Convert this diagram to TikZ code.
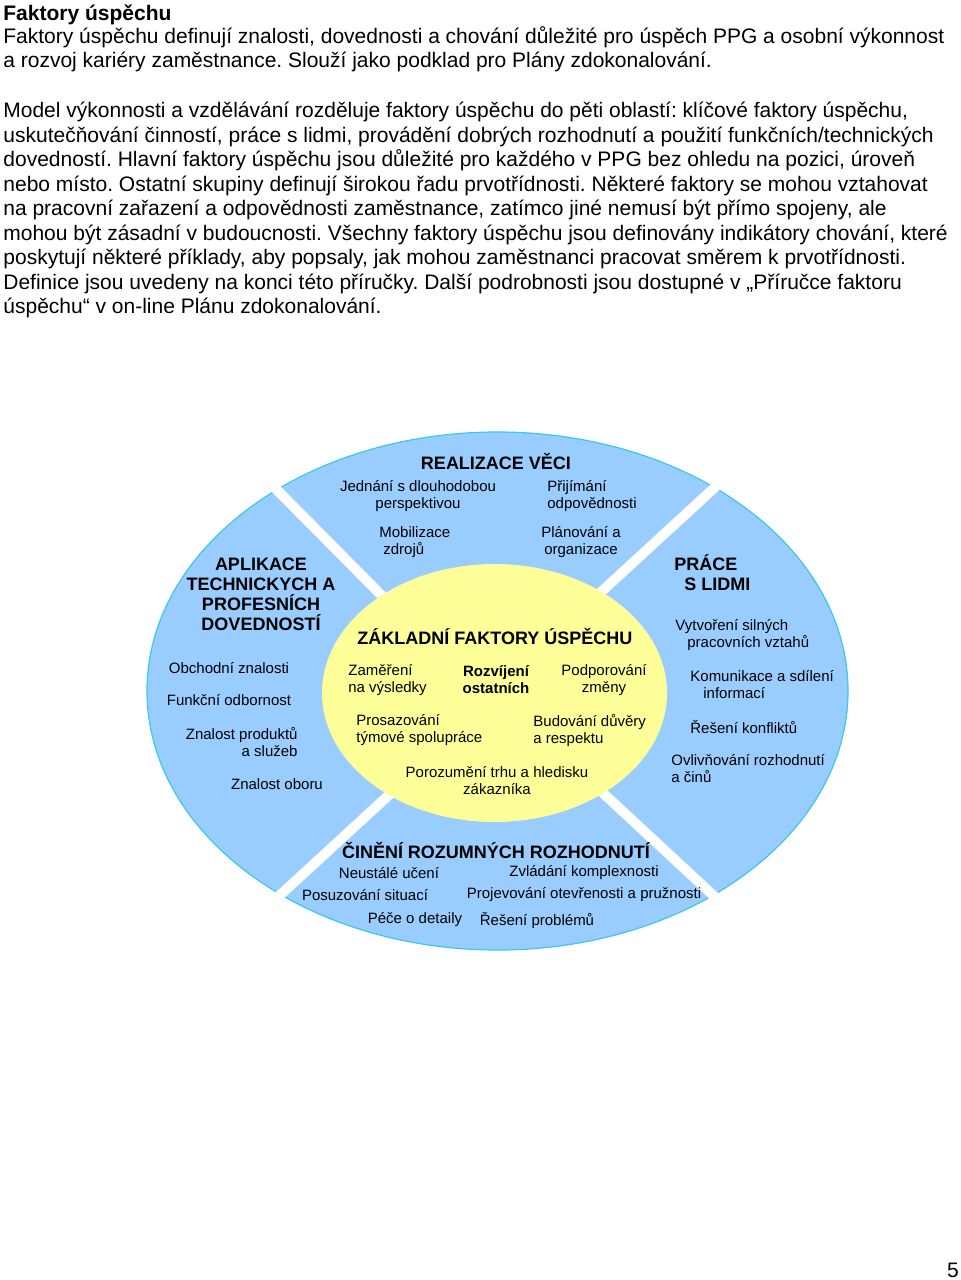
\documentclass[tikz,border=0pt]{standalone}
\usepackage{fontspec}
\setmainfont{Liberation Sans}
\frenchspacing
\usetikzlibrary{calc}
\definecolor{ringblue}{RGB}{153,204,255}
\definecolor{ringedge}{RGB}{60,200,230}
\definecolor{coreyellow}{RGB}{255,255,153}
\tikzset{
    headtxt/.style={font=\fontsize{9}{10}\selectfont\bfseries, align=center, inner sep=0pt},
    itemtxt/.style={font=\fontsize{7.5}{8.5}\selectfont, align=center, inner sep=0pt},
    bodytxt/.style={font=\fontsize{10.5}{12.25}\selectfont, align=left, inner sep=0pt, anchor=north west},
    gapline/.style={line width=5pt, white, shorten <=-6pt, shorten >=-8pt},
}

\begin{document}
\begin{tikzpicture}[
    x=0.5pt, y=-0.5pt,
    lefttxt/.style={itemtxt, align=left, anchor=west},
    righttxt/.style={itemtxt, align=right, anchor=east},
]
\useasboundingbox (0,0) rectangle (960,1280);

% Intro text
\node[bodytxt, font=\fontsize{10.5}{12.25}\selectfont\bfseries] (title) at (3,4) {Faktory úspěchu};
\node[bodytxt] (para1) at (3,26) {Faktory úspěchu definují znalosti, dovednosti a chování důležité pro úspěch PPG a osobní výkonnost\\
a rozvoj kariéry zaměstnance. Slouží jako podklad pro Plány zdokonalování.};
\node[bodytxt] (para2) at (3,102) {Model výkonnosti a vzdělávání rozděluje faktory úspěchu do pěti oblastí: klíčové faktory úspěchu,\\
uskutečňování činností, práce s lidmi, provádění dobrých rozhodnutí a použití funkčních/technických\\
dovedností. Hlavní faktory úspěchu jsou důležité pro každého v PPG bez ohledu na pozici, úroveň\\
nebo místo. Ostatní skupiny definují širokou řadu prvotřídnosti. Některé faktory se mohou vztahovat\\
na pracovní zařazení a odpovědnosti zaměstnance, zatímco jiné nemusí být přímo spojeny, ale\\
mohou být zásadní v budoucnosti. Všechny faktory úspěchu jsou definovány indikátory chování, které\\
poskytují některé příklady, aby popsaly, jak mohou zaměstnanci pracovat směrem k prvotřídnosti.\\
Definice jsou uvedeny na konci této příručky. Další podrobnosti jsou dostupné v „Příručce faktoru\\
úspěchu“ v on-line Plánu zdokonalování.};

% Outer ring and the four gaps
\coordinate (ringc) at (497.5,691);
\fill[ringblue, draw=ringedge, line width=0.6pt] (ringc) ellipse [x radius=175.25pt, y radius=129.5pt];
\coordinate (ulout) at (275,488);  \coordinate (ulin) at (397,611);
\coordinate (urout) at (712,490);  \coordinate (urin) at (588,604);
\coordinate (llout) at (278,897);  \coordinate (llin) at (402,783);
\coordinate (lrout) at (715,897);  \coordinate (lrin) at (590,781);
\draw[gapline] (ulin) -- (ulout);
\draw[gapline] (urin) -- (urout);
\draw[gapline] (llin) -- (llout);
\draw[gapline] (lrin) -- (lrout);

% Core
\coordinate (corec) at (494.5,693);
\fill[coreyellow] (corec) ellipse [x radius=86.25pt, y radius=64.5pt];

% Top: Realizace veci
\node[headtxt] (realhead) at (496,462) {REALIZACE VĚCI};
\node[itemtxt] (jednani) at (418,496) {Jednání s dlouhodobou\\perspektivou};
\node[lefttxt] (prijimani) at (547,496) {Přijímání\\odpovědnosti};
\node[lefttxt] (mobil) at (379,542) {Mobilizace\\\hspace*{2pt}zdrojů};
\node[itemtxt] (planovani) at (581,542) {Plánování a\\organizace};

% Left: Aplikace
\node[headtxt] (aplhead) at (261,594) {APLIKACE\\TECHNICKYCH A\\PROFESNÍCH\\DOVEDNOSTÍ};
\node[itemtxt] (obchod) at (229,668) {Obchodní znalosti};
\node[itemtxt] (funkcni) at (229,700) {Funkční odbornost};
\node[righttxt] (produkty) at (298,742) {Znalost produktů\\a služeb};
\node[itemtxt] (obor) at (277,784) {Znalost oboru};

% Right: Prace s lidmi
\node[headtxt, align=left, anchor=west] (pracehead) at (674,573) {PRÁCE\\\hspace*{5pt}S LIDMI};
\node[lefttxt] (vztahy) at (675,635) {Vytvoření silných\\\hspace*{6pt}pracovních vztahů};
\node[lefttxt] (komunikace) at (690,685) {Komunikace a sdílení\\\hspace*{6.5pt}informací};
\node[lefttxt] (konflikty) at (690,727) {Řešení konfliktů};
\node[lefttxt] (ovlivnovani) at (671,769) {Ovlivňování rozhodnutí\\a činů};

% Core factors
\node[headtxt] (corehead) at (495,637) {ZÁKLADNÍ FAKTORY ÚSPĚCHU};
\node[lefttxt] (zamereni) at (348,680) {Zaměření\\na výsledky};
\node[itemtxt, font=\fontsize{7.5}{8.5}\selectfont\bfseries] (rozvijeni) at (496,680) {Rozvíjení\\ostatních};
\node[itemtxt] (podporovani) at (604,680) {Podporování\\změny};
\node[lefttxt] (prosazovani) at (356,730) {Prosazování\\týmové spolupráce};
\node[lefttxt] (budovani) at (533,730) {Budování důvěry\\a respektu};
\node[itemtxt] (porozumeni) at (497,781) {Porozumění trhu a hledisku\\zákazníka};

% Bottom: Cineni rozhodnuti
\node[headtxt] (cinhead) at (496,851) {ČINĚNÍ ROZUMNÝCH ROZHODNUTÍ};
\node[itemtxt] (uceni) at (389,873) {Neustálé učení};
\node[itemtxt] (komplex) at (584,873) {Zvládání komplexnosti};
\node[itemtxt] (situace) at (365,895) {Posuzování situací};
\node[itemtxt] (otevrenost) at (584,895) {Projevování otevřenosti a pružnosti};
\node[itemtxt] (detaily) at (415,920) {Péče o detaily};
\node[itemtxt] (problemy) at (537,920) {Řešení problémů};

% Page number
\node[font=\fontsize{10.5}{12.25}\selectfont, inner sep=0pt] (pagenum) at (953,1270) {5};

\end{tikzpicture}
\end{document}
